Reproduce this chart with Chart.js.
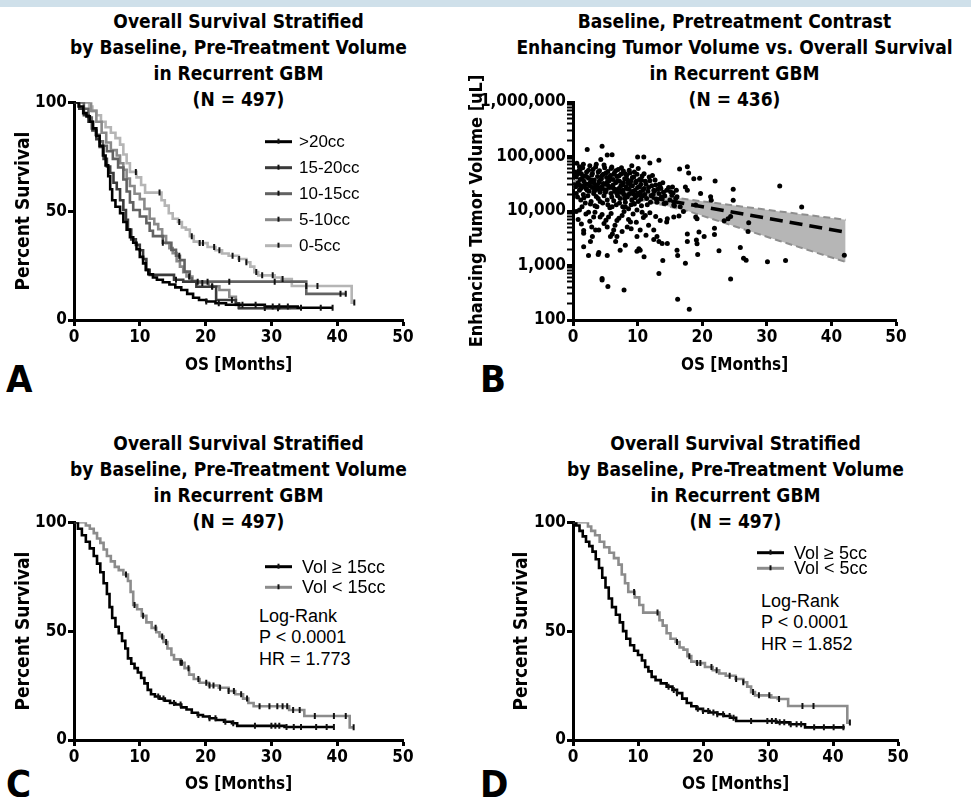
<!DOCTYPE html>
<html><head><meta charset="utf-8"><title>Recurrent GBM survival</title>
<script src="https://cdn.jsdelivr.net/npm/chart.js@4.4.1/dist/chart.umd.min.js"></script>
<style>
html,body{margin:0;padding:0;background:#fff;}
body{width:971px;height:797px;overflow:hidden;position:relative;}
#band{position:absolute;left:0;top:0;width:971px;height:7px;background:#cfe0ea;}
canvas{position:absolute;}
.ttl{position:absolute;width:560px;text-align:center;font-weight:bold;font-size:19px;line-height:26px;white-space:nowrap;color:#000;}
.letter{position:absolute;font-weight:bold;font-size:38px;line-height:38px;color:#000;}
.note{position:absolute;font-family:"Liberation Sans",Arial,sans-serif;font-size:18px;line-height:21.3px;white-space:nowrap;color:#000;}
</style></head><body>
<div id="band"></div>
<div class="ttl" style="left:-41.5px;top:8px">Overall Survival Stratified<br>by Baseline, Pre-Treatment Volume<br>in Recurrent GBM<br>(N = 497)</div>
<div class="ttl" style="left:454.5px;top:8px">Baseline, Pretreatment Contrast<br>Enhancing Tumor Volume vs. Overall Survival<br>in Recurrent GBM<br>(N = 436)</div>
<div class="ttl" style="left:-41.5px;top:430px">Overall Survival Stratified<br>by Baseline, Pre-Treatment Volume<br>in Recurrent GBM<br>(N = 497)</div>
<div class="ttl" style="left:455.5px;top:430px">Overall Survival Stratified<br>by Baseline, Pre-Treatment Volume<br>in Recurrent GBM<br>(N = 497)</div>
<div class="letter" style="left:6px;top:360px">A</div>
<div class="letter" style="left:480px;top:360px">B</div>
<div class="letter" style="left:6px;top:765px">C</div>
<div class="letter" style="left:480px;top:765px">D</div>
<div class="note" style="left:259px;top:606px">Log-Rank<br>P &lt; 0.0001<br>HR = 1.773</div>
<div class="note" style="left:761px;top:591px">Log-Rank<br>P &lt; 0.0001<br>HR = 1.852</div>
<canvas id="cA" width="423" height="290" style="left:0;top:91px"></canvas>
<canvas id="cB" width="476" height="320" style="left:440px;top:61px"></canvas>
<canvas id="cC" width="423" height="290" style="left:0;top:511px"></canvas>
<canvas id="cD" width="478" height="290" style="left:440px;top:511px"></canvas>
<script>
// ---------- tick labels ----------
const monthTicks = [0, 10, 20, 30, 40, 50];
const survTicks = [0, 50, 100];
const volTicks = [100, 1000, 10000, 100000, 1000000];

// ---------- Kaplan-Meier curves: [months, percent survival] ----------
const kmGt20 = [[0,100],[0.7,98],[1.4,95],[1.9,93.5],[2.4,91],[2.9,88],[3.4,84.5],[3.9,80],[4.4,75.5],[4.8,71],[5.2,66],[5.5,60],[5.8,55],[6.3,52],[7.0,49],[7.5,45],[8.0,41.5],[8.5,38],[9.0,35.5],[9.5,32.5],[10.0,29],[10.5,26],[10.9,23],[11.3,21],[12.0,19.5],[12.6,18.5],[13.5,17.3],[14.5,16.3],[15.4,15],[16.3,13.8],[17.2,12],[18.1,10.2],[19.0,9.2],[20.1,8.5],[21.5,7.7],[23.1,7],[29,6.2],[34,5.6],[39.3,5.6]];
const km15to20 = [[0,100],[0.8,97],[1.5,94],[2.2,91],[2.8,87],[3.4,83],[3.9,79.5],[4.5,74],[5.0,70.5],[5.5,67.5],[6.0,63],[6.5,60],[7.0,55],[7.5,50.5],[7.9,46],[8.2,41.5],[8.7,37],[9.4,34.5],[10.0,32],[10.5,28],[11.0,23],[11.5,20.7],[15.2,18.5],[16.6,17.6],[18.6,15.3],[21.6,9.2],[24.6,7.7],[25.1,5.4],[34.5,5.4]];
const km10to15 = [[0,100],[1.5,97],[2.2,93],[2.7,88],[3.3,85],[3.9,82],[4.4,80],[5.0,77.5],[5.9,74],[6.7,70],[7.5,64.5],[8.0,59],[8.5,54],[9.0,50.5],[10.0,47.5],[11.0,44.5],[11.5,41],[12.0,38.5],[13.5,35.5],[14.8,32.2],[15.5,29.5],[16.1,27.5],[16.8,22.2],[17.6,19.2],[17.9,17.6],[35.3,12],[41.4,12]];
const km5to10 = [[0,100],[2.0,100],[2.6,96],[3.4,91],[4.2,86],[4.9,81.5],[5.6,78],[6.5,75.5],[7.0,72],[7.5,69],[8.0,65],[8.5,61.5],[9.2,58],[10.0,55.5],[10.7,51],[11.5,46.5],[12.2,44],[12.8,41.7],[13.4,38.5],[14.0,35.3],[14.5,33],[15.0,30.7],[15.6,27],[16.1,24.5],[16.6,22],[17.1,20],[18.0,18],[18.6,17],[20.5,15.5],[22.1,13.8],[23.6,10.7],[24.6,6.9],[25.0,5.5],[33,5.5]];
const kmLt5 = [[0,100],[1.8,100],[2.3,98],[2.8,96],[3.4,94],[4.1,91],[4.8,88.5],[5.6,86],[6.3,83.5],[7.0,80.5],[7.5,76],[8.0,72],[8.5,68],[9.5,65.5],[10.2,62],[10.8,58.5],[12.8,58.5],[13.3,55],[13.8,52.5],[14.4,49],[15.0,46.5],[15.8,45],[16.4,42.5],[17.0,41.5],[17.6,38.5],[18.2,36],[19.0,35.3],[20.3,33.5],[21.5,32],[22.5,30.5],[23.5,29.5],[25.0,28],[26.2,26.5],[26.8,24.5],[27.4,22],[28,20.5],[30.5,19.5],[31.5,18.8],[33.1,15.6],[42.2,8],[42.6,8]];
const kmGe15 = [[0,100],[0.6,97],[1.2,94],[1.8,91],[2.4,88],[3.0,84.5],[3.5,81],[4.0,77],[4.5,72],[5.0,67],[5.4,61],[5.8,56],[6.3,52],[6.8,49],[7.3,45.5],[7.8,42],[8.2,37.5],[8.7,35],[9.2,33],[9.7,31],[10.2,28.5],[10.7,26],[11.2,23],[11.7,21],[12.3,20],[13.0,19],[13.8,18],[14.6,17],[15.4,16.3],[16.3,15],[17.1,14],[17.9,12.5],[18.8,11.5],[19.6,10.8],[20.6,10],[21.6,9.2],[22.8,8.4],[24.0,7.7],[24.8,6.5],[32,6],[39.5,6]];
const kmLt15 = [[0,100],[1.3,100],[1.8,98.5],[2.4,97],[3.0,95],[3.5,92.5],[4.0,90.5],[4.5,87.5],[5.0,84.5],[5.6,82],[6.2,79.5],[6.8,78],[7.5,76],[8.2,73],[8.6,68],[9.0,62],[9.6,60],[10.3,57],[11.0,54],[11.8,51.5],[12.5,49.5],[13.0,47.5],[13.6,45],[14.2,42],[14.8,39],[15.2,37],[16.2,35.5],[16.8,33],[17.5,30],[18.2,28],[19.1,26.3],[20.5,25],[22,24],[23.5,22.5],[24.5,21],[25.7,19],[26.5,17],[27.3,15.5],[32.7,13.8],[35,11],[41.9,5.8],[42.5,5.8]];
const kmGe5 = [[0,100],[0.5,98.5],[1.0,96],[1.5,93.5],[2.0,91],[2.5,89],[3.0,86.5],[3.5,83],[4.0,79],[4.5,74.5],[5.0,70],[5.5,65],[6.0,61],[6.6,57.5],[7.2,54],[7.7,50],[8.2,46.5],[8.8,43.5],[9.4,41],[10.0,39],[10.6,36.5],[11.1,33.5],[11.6,31.5],[12.1,29],[12.7,27.5],[13.5,26],[14.4,24.5],[15.3,23],[16.0,21.5],[16.8,19],[17.5,17],[18.2,15.5],[19.0,14.3],[20.0,13.3],[21.0,12.6],[22.2,11.8],[23.2,11],[24.2,10.2],[25.1,8.7],[31.3,8.1],[33.3,7.2],[35.7,5.8],[41.8,5.8]];

// ---------- censored observations (months) ----------
const cenGt20 = [20.1,22,25.6,27.6,30.2,31.2,32.5,34.5,37.5,39.3];
const cen15to20 = [15.5,21,24,31];
const cen10to15 = [13.5,16,18.8,20.3,23.6,30.5,40.5,41.3];
const cen5to10 = [17.5,19.5,21,29];
const cenLt5 = [9.4,13,16,17.9,19.1,19.6,21.3,22.1,24.1,25.1,26.2,27.7,28.6,30.2,31.7,35.3,37,42.6];
const cenGe15 = [12.8,13.6,15.2,16.2,18.9,20.6,21.5,23,24.2,27.5,30,30.6,31.2,32.3,33.4,34.5,36.8,38.4,39.5];
const cenLt15 = [7.9,9.2,10.5,12.4,13.4,14,16.2,16.4,17.4,18.9,20.1,20.6,21.2,22.2,23.5,24.3,25.4,26.3,28.2,29.7,30.9,31.7,32.4,33.3,34.3,36.6,39.5,41.3,42.5];
const cenGe5 = [14.7,15.5,16,19.2,20,20.8,21.6,22.2,23.1,24.1,24.7,27.4,29.9,30.6,31.2,31.8,32.5,33.5,34.4,35.1,37.1,38.6,40.1,41.6];

// ---------- legend labels ----------
const legendA = ['>20cc', '15-20cc', '10-15cc', '5-10cc', '0-5cc'];
const legendC = ['Vol \u2265 15cc', 'Vol < 15cc'];
const legendD = ['Vol \u2265 5cc', 'Vol < 5cc'];

// ---------- panel B: [OS months, enhancing volume uL] ----------
const volPoints = [[4.5,154000],[2.2,134000],[5.3,107000],[6.05,108000],[10.0,98000],[10.96,98000],[11.9,76000],[13.3,85000],[9.1,68000],[16.5,59000],[17.7,65000],[17.9,50000],[18.7,39000],[19.6,40000],[22.0,35700],[24.8,25000],[32.0,28800],[35.4,11800],[24.8,15800],[21.3,18200],[21.4,15800],[24.0,7200],[23.4,6600],[24.4,7900],[27.2,6100],[27.1,4200],[21.9,4800],[21.9,3700],[20.3,3400],[19.5,4100],[19.1,2950],[19.2,2500],[17.7,3800],[17.7,2750],[17.4,1100],[19.3,1590],[22.6,1870],[25.9,2130],[26.4,1360],[26.8,1250],[30.1,1170],[32.9,1240],[42.0,1550],[24.4,565],[16.1,1900],[16.2,1520],[16.2,240],[18.0,158],[13.3,710],[13.9,1240],[11.0,1440],[10.4,1900],[9.9,1820],[4.5,580],[4.5,540],[5.4,410],[7.9,355],[2.4,1520],[1.65,2200],[4.0,1740],[3.9,1590],[5.3,1520],[7.3,1900],[8.1,2350],[10.2,2040],[6.6,2750],[5.8,3390],[2.7,2750],[1.65,3900],[1.65,4400],[3.5,4500],[12.5,3000],[13.3,2750],[13.8,2520],[14.6,2520],[13.0,3390],[15.6,7800],[16.4,8100],[16.6,12000],[17.1,9800],[15.6,12900],[15.9,17000],[15.1,22500],[15.4,27500],[16.1,18200],[17.4,27500],[17.7,24000],[19.0,7800],[19.2,7200],[19.0,12900],[19.75,21000],[12.5,24000],[13.5,27500],[14.1,13800],[14.6,7200],[14.5,6300],[13.5,6700],[12.5,4500],[11.7,5500],[11.2,8300],[10.7,9500],[10.4,4500],[9.9,3390],[8.9,6300],[8.4,5100],[7.6,4200],[6.8,3390],[6.3,4500],[5.3,5100],[4.8,5900],[4.0,4500],[2.9,5100],[3.2,7800],[4.2,7800],[5.5,7800],[6.8,6700],[7.6,8300],[1.0,10400],[1.4,12000],[2.4,9500],[3.7,12000],[6.05,12000],[8.1,12000],[9.4,13800],[9.9,10400],
[0.4,28000],[0.5,42000],[0.6,75000],[0.7,18000],[0.8,33000],[0.9,55000],[1.0,24000],[1.0,65000],[1.1,38000],[1.2,16000],[1.3,48000],[1.4,28000],[1.5,62000],[1.6,20000],[1.7,35000],[1.8,44000],[1.9,14000],[2.0,26000],[2.1,52000],[2.2,31000],[2.3,19000],[2.4,40000],[2.5,23000],[2.6,68000],[2.7,34000],[2.8,15000],[2.9,46000],[3.0,27000],[3.1,58000],[3.2,21000],[3.3,37000],[3.4,12500],[3.5,30000],[3.6,72000],[3.7,25000],[3.8,43000],[3.9,17000],[4.0,33000],[4.1,55000],[4.2,22000],[4.3,88000],[4.4,39000],[4.5,28000],[4.6,14000],[4.7,47000],[4.8,19000],[4.9,62000],[5.0,31000],[5.1,24000],[5.2,41000],[5.3,16000],[5.4,53000],[5.5,29000],[5.6,36000],[5.7,11500],[5.8,45000],[5.9,21000],[6.0,64000],[6.1,27000],[6.2,38000],[6.3,15500],[6.4,50000],[6.5,23000],[6.6,33000],[6.7,13000],[6.8,43000],[6.9,19000],[7.0,58000],[7.1,26000],[7.2,35000],[7.3,17000],[7.4,47000],[7.5,22000],[7.6,30000],[7.7,12000],[7.8,54000],[7.9,20000],[8.0,39000],[8.1,14500],[8.2,28000],[8.3,45000],[8.4,18000],[8.5,33000],[8.6,11000],[8.7,25000],[8.8,50000],[8.9,21000],[9.0,36000],[9.1,16000],[9.2,29000],[9.4,42000],[9.5,13500],[9.6,24000],[9.7,33000],[9.8,19000],[9.9,47000],[10.0,27000],[10.1,15000],[10.3,38000],[10.4,22000],[10.5,31000],[10.6,12500],[10.7,44000],[10.8,19000],[11.0,26000],[11.2,35000],[11.4,17000],[11.6,23000],[11.8,42000],[12.0,14500],[12.2,29000],[12.4,20000],[12.7,37000],[12.9,16500],[13.1,25000],[13.4,31000],[13.7,18000],[14.0,22000],[14.4,14000],[14.8,27000],[15.3,19500],[15.7,12500],[16.0,24000],
[0.3,52000],[0.5,21000],[0.7,47000],[0.9,30000],[1.1,58000],[1.2,26000],[1.4,40000],[1.6,72000],[1.7,17500],[1.9,31000],[2.1,43000],[2.2,24000],[2.4,56000],[2.6,29000],[2.7,13500],[2.9,37000],[3.0,49000],[3.2,33000],[3.3,23000],[3.5,64000],[3.6,18500],[3.8,28000],[3.9,52000],[4.1,36000],[4.2,15000],[4.4,26000],[4.5,45000],[4.7,32000],[4.8,70000],[5.0,22000],[5.1,50000],[5.3,34000],[5.4,13000],[5.6,27000],[5.7,42000],[5.9,60000],[6.0,18000],[6.2,30000],[6.3,47000],[6.5,25000],[6.6,55000],[6.8,21000],[6.9,36000],[7.1,44000],[7.2,14000],[7.4,29000],[7.5,62000],[7.7,24000],[7.8,33000],[8.0,17000],[8.1,48000],[8.3,26000],[8.4,38000],[8.6,20000],[8.7,56000],[8.9,30000],[9.0,13000],[9.2,41000],[9.3,23000],[9.5,52000],[9.6,17500],[9.8,35000],[10.0,21000],[10.1,60000],[10.3,28000],[10.5,16500],[10.6,37000],[10.8,24000],[11.0,48000],[11.1,20000],[11.3,31000],[11.5,13000],[11.7,27000],[11.9,36000],[12.1,19000],[12.3,45000],[12.6,23000],[12.8,30000],[13.0,14500],[13.3,21000],[13.6,26000],[13.9,33000],[14.2,19000],[14.5,24000],[15.0,16000],[15.5,21500],
[0.8,7000],[1.3,5800],[2.0,8800],[2.6,6500],[3.4,9500],[4.5,8600],[5.1,6800],[5.9,9000],[6.5,5500],[7.1,7400],[7.9,9800],[8.6,7000],[9.3,8800],[9.8,6200],[10.9,7600],[11.9,9300],[12.8,7900],[0.5,9800],[3.0,3400],[6.1,3800],[9.0,4700],[11.3,3600]];
const regLine = [[0,31600],[42.2,4100]];
const bandUpper = [[0,36300],[5,27500],[10,22400],[18,16200],[25,12600],[32,9800],[42.2,6900]];
const bandLower = [[0,26900],[5,21900],[10,16600],[18,9800],[25,5250],[32,2820],[42.2,1160]];

// ---------- fonts ----------
function hasFont(f){
  const c=document.createElement('canvas').getContext('2d');
  const s='abcdefghijklmnopqrstuvwxyz0123456789ABCDEFGHIJ';
  let diff=false;
  ['monospace','serif'].forEach(b=>{
    c.font='40px '+b; const w0=c.measureText(s).width;
    c.font='40px "'+f+'", '+b; const w1=c.measureText(s).width;
    if(Math.abs(w0-w1)>0.5) diff=true;
  });
  return diff;
}
const NARROW=['Liberation Sans Narrow','Arial Narrow','DejaVu Sans Condensed'].find(hasFont);
const FAMB = NARROW ? '"'+NARROW+'", "Liberation Sans", Arial, sans-serif' : '"Liberation Sans", Arial, sans-serif';
const FAMR = '"Liberation Sans", Arial, sans-serif';
document.querySelectorAll('.ttl,.letter').forEach(e=>{
  e.style.fontFamily=FAMB;
  if(!NARROW){ e.style.transform='scaleX(0.84)'; e.style.transformOrigin='center top'; }
});
Chart.defaults.font.family = FAMB;
Chart.defaults.color = '#000';

// ---------- helpers ----------
const pts = arr => arr.map(p => ({x:p[0], y:p[1]}));
function survAt(curve, t){ let s=curve[0][1]; for(const p of curve){ if(p[0]<=t) s=p[1]; } return s; }
function kmLine(curve, color, order){
  return {type:'line', data:pts(curve), borderColor:color, borderWidth:2.6, stepped:true, pointRadius:0, fill:false, order};
}
function kmCens(curve, times){
  return {type:'line', data:times.map(t=>({x:t,y:survAt(curve,t)})), showLine:false, pointStyle:'line', pointRotation:90, pointRadius:3, pointBorderColor:'#111', pointBorderWidth:2, order:0};
}
const tickFont = {family:FAMB, size:17, weight:'bold'};
const xTitleFont = {family:FAMB, size:17, weight:'bold'};
const yTitleFont = {family:FAMB, size:19, weight:'bold'};
function axisStyle(){
  return {
    border:{display:true, color:'#000', width:3},
    grid:{display:true, drawOnChartArea:false, drawTicks:true, tickLength:6, tickWidth:3, tickColor:'#000'},
  };
}
function xScale(padB, h){
  return Object.assign(axisStyle(), {
    type:'linear', min:0, max:50,
    afterBuildTicks:s=>{ s.ticks = monthTicks.map(v=>({value:v})); },
    afterFit:s=>{ s.height = h || 61; },
    ticks:{font:tickFont, color:'#000', padding:1, maxRotation:0, autoSkip:false},
    title:{display:true, text:'OS [Months]', font:xTitleFont, color:'#000', padding:{top:2,bottom:padB}}
  });
}
function survScale(width, titleOffset){
  return Object.assign(axisStyle(), {
    type:'linear', min:0, max:100,
    afterBuildTicks:s=>{ s.ticks = survTicks.map(v=>({value:v})); },
    afterFit:s=>{ s.width = width; },
    ticks:{font:tickFont, color:'#000', padding:1},
    title:{display:true, text:'Percent Survival', font:yTitleFont, color:'#000', padding:{top:titleOffset,bottom:0}}
  });
}
const kmLegend = {
  id:'kmLegend',
  afterDraw(chart, args, o){
    if(!o || !o.items) return;
    const ctx=chart.ctx; ctx.save();
    o.items.forEach((it,i)=>{
      const y=o.y+i*o.dy;
      ctx.strokeStyle=it.color; ctx.lineWidth=3; ctx.lineCap='butt';
      ctx.beginPath(); ctx.moveTo(o.x,y); ctx.lineTo(o.x+o.len,y); ctx.stroke();
      ctx.strokeStyle='#111'; ctx.lineWidth=2;
      ctx.beginPath(); ctx.moveTo(o.x+o.len/2,y-3); ctx.lineTo(o.x+o.len/2,y+2); ctx.stroke();
      ctx.fillStyle='#000'; ctx.font=o.font; ctx.textAlign='left'; ctx.textBaseline='middle';
      ctx.fillText(it.label, o.x+o.len+o.gap, y+1);
    });
    ctx.restore();
  }
};
function kmChart(id, yWidth, yTitleOffset, padB, datasets, legend){
  return new Chart(document.getElementById(id), {
    type:'line',
    data:{datasets},
    options:{
      responsive:false, animation:false, devicePixelRatio:1,
      layout:{padding:{top:11, right:20, left:0, bottom:0}},
      plugins:{legend:{display:false}, tooltip:{enabled:false}, kmLegend:legend},
      scales:{x:xScale(padB), y:survScale(yWidth, yTitleOffset)}
    },
    plugins:[kmLegend]
  });
}

// colours
const cBlack='#000000', cDark='#3a3a3a', cMid='#626262', cGrey='#8a8a8a', cLight='#b5b5b5', cTwo='#8c8c8c';

// ---------- Panel A ----------
kmChart('cA', 74, 12.6, 5, [
  kmCens(kmGt20, cenGt20), kmCens(km15to20, cen15to20), kmCens(km10to15, cen10to15), kmCens(km5to10, cen5to10), kmCens(kmLt5, cenLt5),
  kmLine(kmGt20, cBlack, 1), kmLine(km15to20, cDark, 2), kmLine(km10to15, cMid, 3), kmLine(km5to10, cGrey, 4), kmLine(kmLt5, cLight, 5)
], {x:265, y:50.7, dy:26, len:27, gap:7, font:'17px '+FAMR,
    items:legendA.map((l,i)=>({label:l, color:[cBlack,cDark,cMid,cGrey,cLight][i]}))});

// ---------- Panel C ----------
kmChart('cC', 74, 12.6, 6, [
  kmCens(kmGe15, cenGe15), kmCens(kmLt15, cenLt15),
  kmLine(kmGe15, cBlack, 1), kmLine(kmLt15, cTwo, 2)
], {x:265, y:55.7, dy:20.6, len:27, gap:10, font:'18px '+FAMR,
    items:legendC.map((l,i)=>({label:l, color:[cBlack,cTwo][i]}))});

// ---------- Panel D ----------
kmChart('cD', 133, 71.1, 6, [
  kmCens(kmGe5, cenGe5), kmCens(kmLt5, cenLt5),
  kmLine(kmGe5, cBlack, 1), kmLine(kmLt5, cTwo, 2)
], {x:317, y:41.7, dy:15.6, len:27, gap:10, font:'18px '+FAMR,
    items:legendD.map((l,i)=>({label:l, color:[cBlack,cTwo][i]}))});

// ---------- Panel B ----------
const minorVol = [];
volTicks.forEach(d=>{ if(d<1000000){ for(let m=1;m<=9;m++) minorVol.push(d*m); } else minorVol.push(d); });
new Chart(document.getElementById('cB'), {
  type:'scatter',
  data:{datasets:[
    {data:pts(regLine), showLine:true, borderColor:'#000', borderWidth:3.5, borderDash:[13,7], pointRadius:0, order:0},
    {data:pts(volPoints), pointRadius:2.5, pointBackgroundColor:'#000', pointBorderWidth:0, order:1},
    {data:pts(bandUpper), showLine:true, borderColor:'#8f8f8f', borderWidth:2, borderDash:[7,4], pointRadius:0, fill:'+1', backgroundColor:'#b6b6b6', order:3},
    {data:pts(bandLower), showLine:true, borderColor:'#8f8f8f', borderWidth:2, borderDash:[7,4], pointRadius:0, fill:false, order:2}
  ]},
  options:{
    responsive:false, animation:false, devicePixelRatio:1,
    layout:{padding:{top:41, right:20, left:0, bottom:0}},
    plugins:{legend:{display:false}, tooltip:{enabled:false}},
    scales:{
      x:xScale(5, 61),
      y:Object.assign(axisStyle(), {
        type:'logarithmic', min:100, max:1000000,
        afterBuildTicks:s=>{ s.ticks = minorVol.map(v=>({value:v})); },
        afterFit:s=>{ s.width = 133; },
        grid:{display:true, drawOnChartArea:false, drawTicks:true, tickLength:6, tickColor:'#000',
              tickWidth:c=> (c.tick && volTicks.includes(c.tick.value)) ? 3 : 2},
        ticks:{font:tickFont, color:'#000', padding:1, autoSkip:false,
               callback:v=> volTicks.includes(v) ? v.toLocaleString('en-US') : ''},
        title:{display:true, text:'Enhancing Tumor Volume [uL]', font:{family:FAMB, size:18, weight:'bold'}, color:'#000', padding:{top:27,bottom:0}}
      })
    }
  }
});
</script>
</body></html>
